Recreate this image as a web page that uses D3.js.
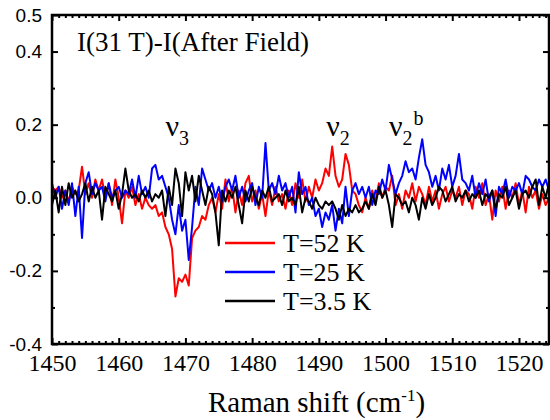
<!DOCTYPE html>
<html>
<head>
<meta charset="utf-8">
<script src="https://cdn.jsdelivr.net/npm/d3@7"></script>
</head>
<body style="margin:0">
<svg id="chart" width="550" height="420"></svg>
<script>
// Raman shift grid (cm^-1), 0.5 step
const shift = d3.range(1450, 1524.51, 0.5);

// T = 52 K
const red52 = [
  0.03, 0.02, 0.03, 0.00, 0.02, -0.01, 0.03, 0.01, 0.02, 0.085,
  0.01, 0.04, 0.00, 0.05, 0.02, 0.05, 0.00, 0.04, -0.02, 0.05,
  0.00, -0.07, 0.02, 0.00, 0.03, -0.02, 0.01, -0.03, 0.00, -0.02,
  -0.03, -0.02, -0.05, -0.04, -0.08, -0.10, -0.14, -0.27, -0.22, -0.23,
  -0.21, -0.24, -0.11, -0.09, -0.08, -0.05, -0.06, -0.02, 0.00, -0.04,
  0.01, -0.03, 0.05, -0.01, 0.03, -0.04, 0.02, -0.02, 0.04, 0.06,
  -0.01, 0.02, -0.03, 0.01, -0.05, 0.02, -0.02, 0.03, -0.01, 0.01,
  -0.03, 0.02, -0.02, 0.04, 0.00, 0.05, -0.01, 0.03, 0.00, 0.05,
  0.02, 0.04, 0.08, 0.06, 0.14, 0.06, 0.03, 0.05, 0.12, 0.09,
  0.02, 0.01, -0.02, -0.04, 0.00, -0.03, 0.02, -0.01, 0.04, 0.00,
  0.03, 0.02, 0.06, -0.02, 0.01, -0.03, 0.02, 0.00, 0.04, -0.01,
  0.03, 0.01, -0.02, 0.03, -0.01, 0.02, -0.03, 0.01, 0.03, -0.01,
  0.02, 0.00, 0.03, -0.02, 0.02, 0.01, -0.03, 0.03, 0.00, 0.04,
  -0.02, 0.01, -0.06, 0.02, -0.01, 0.03, -0.03, 0.02, 0.00, 0.04,
  -0.02, 0.02, -0.04, 0.03, 0.00, 0.02, -0.03, 0.01, -0.02, 0.00
];

// T = 25 K
const blue25 = [
  0.04, 0.00, 0.03, -0.03, 0.02, -0.02, 0.04, -0.05, 0.03, -0.11,
  0.04, 0.07, 0.01, 0.04, 0.02, 0.03, -0.01, 0.04, 0.00, 0.02,
  0.03, 0.00, 0.02, 0.01, 0.05, 0.00, 0.06, 0.01, 0.03, 0.00,
  0.08, 0.09, 0.05, 0.06, 0.03, 0.00, -0.06, -0.10, -0.02, -0.09,
  -0.06, -0.17, -0.08, 0.03, -0.02, 0.08, 0.05, 0.02, 0.04, 0.00,
  0.03, -0.01, 0.03, 0.05, 0.02, 0.06, 0.00, 0.03, -0.01, 0.02,
  0.04, -0.02, 0.03, 0.00, 0.15, 0.02, 0.04, 0.01, 0.06, 0.02,
  0.04, 0.00, 0.03, -0.04, 0.07, 0.01, 0.03, -0.02, 0.00, -0.05,
  -0.03, -0.08, -0.04, -0.06, -0.02, -0.09, -0.03, -0.07, 0.03, -0.05,
  0.02, 0.04, 0.01, 0.03, 0.00, 0.03, -0.02, 0.02, 0.01, 0.05,
  0.02, 0.09, 0.05, 0.01, 0.04, 0.06, 0.10, 0.07, 0.08, 0.05,
  0.11, 0.16, 0.09, 0.07, 0.03, 0.06, 0.02, 0.08, 0.05, 0.09,
  0.03, 0.06, 0.12, 0.05, 0.04, 0.02, 0.06, 0.00, 0.04, 0.01,
  0.05, -0.01, 0.02, -0.05, 0.03, 0.01, 0.05, 0.00, 0.03, 0.02,
  0.04, 0.01, 0.06, 0.05, 0.03, 0.02, 0.05, 0.03, 0.05, 0.02
];

// T = 3.5 K
const black35 = [
  -0.02, 0.02, -0.04, 0.03, -0.02, 0.04, 0.00, 0.02, -0.01, 0.01,
  0.04, -0.01, 0.03, 0.00, 0.02, -0.06, 0.03, 0.01, -0.01, 0.02,
  -0.03, 0.01, 0.08, 0.02, 0.00, 0.01, -0.01, 0.02, 0.00, 0.02,
  -0.01, 0.01, 0.00, 0.02, -0.05, 0.03, -0.02, 0.08, 0.04, -0.05,
  0.07, 0.02, 0.06, -0.01, 0.06, 0.02, -0.02, 0.03, 0.01, -0.04,
  -0.13, 0.02, -0.01, 0.02, 0.00, 0.03, -0.02, -0.07, 0.02, -0.01,
  0.03, 0.00, -0.02, 0.02, 0.00, 0.03, -0.01, 0.00, 0.01, -0.02,
  0.02, -0.01, 0.00, -0.02, 0.03, -0.04, 0.00, -0.01, -0.03, 0.00,
  -0.02, -0.03, -0.01, -0.02, -0.01, -0.03, -0.06, -0.02, -0.05, -0.03,
  -0.04, -0.02, -0.04, -0.03, -0.01, -0.03, 0.01, -0.02, 0.03, 0.00,
  0.02, -0.02, -0.08, 0.01, 0.00, -0.02, -0.01, -0.04, 0.00, -0.02,
  -0.06, 0.00, -0.03, 0.01, -0.02, 0.00, 0.03, 0.02, -0.01, 0.01,
  0.03, -0.01, 0.01, 0.00, 0.02, -0.01, 0.01, 0.00, 0.02, -0.02,
  0.01, 0.00, 0.02, -0.03, 0.01, 0.00, 0.03, -0.02, 0.00, 0.02,
  -0.03, 0.01, 0.02, 0.00, 0.03, 0.05, -0.02, 0.03, 0.00, 0.04
];

const seriesNames = ["T=52 K", "T=25 K", "T=3.5 K"];
const seriesColors = ["#ff0000", "#0000ff", "#000000"];
const xMajor = [1450, 1460, 1470, 1480, 1490, 1500, 1510, 1520];
const yMajor = [-0.4, -0.2, 0.0, 0.2, 0.4, 0.5];
const yMinor = [-0.3, -0.1, 0.1, 0.3];

const SERIF = '"Liberation Serif"';
const SANS = '"Liberation Sans"';

const W = 550, H = 420;
const margin = { top: 15, right: 1, bottom: 76, left: 52 };

const svg = d3.select("#chart");

const x = d3.scaleLinear().domain([1450, 1524.5]).range([margin.left, W - margin.right]);
const y = d3.scaleLinear().domain([-0.4, 0.5]).range([H - margin.bottom, margin.top]);

const plotL = x.range()[0], plotR = x.range()[1];
const plotB = y.range()[0], plotT = y.range()[1];

svg.append("defs").append("clipPath").attr("id", "plot")
  .append("rect")
  .attr("x", plotL).attr("y", plotT)
  .attr("width", plotR - plotL)
  .attr("height", plotB - plotT);

const lineGen = d3.line().x((d, i) => x(shift[i])).y(d => y(d));

svg.append("g").attr("clip-path", "url(#plot)")
  .selectAll("path")
  .data([red52, blue25, black35])
  .join("path")
  .attr("d", lineGen)
  .attr("fill", "none")
  .attr("stroke", (d, i) => seriesColors[i])
  .attr("stroke-width", 2)
  .attr("stroke-linejoin", "round");

// axes, ticks point inward
const xMinor = d3.range(1451, 1525, 1).filter(v => v % 10 !== 0);

const xAxis = svg.append("g").attr("transform", `translate(0,${plotB})`)
  .call(d3.axisBottom(x).tickValues(xMajor).tickSize(-6).tickPadding(10).tickFormat(d3.format("d")));
svg.append("g").attr("transform", `translate(0,${plotB})`)
  .call(d3.axisBottom(x).tickValues(xMinor).tickSize(-3).tickFormat(""));
svg.append("g").attr("transform", `translate(0,${plotT})`)
  .call(d3.axisTop(x).tickValues(xMajor).tickSize(-6).tickFormat(""));
svg.append("g").attr("transform", `translate(0,${plotT})`)
  .call(d3.axisTop(x).tickValues(xMinor).tickSize(-3).tickFormat(""));

const yAxis = svg.append("g").attr("transform", `translate(${plotL},0)`)
  .call(d3.axisLeft(y).tickValues(yMajor).tickSize(-6).tickPadding(10).tickFormat(d => d.toFixed(1)));
svg.append("g").attr("transform", `translate(${plotL},0)`)
  .call(d3.axisLeft(y).tickValues(yMinor).tickSize(-3).tickFormat(""));
svg.append("g").attr("transform", `translate(${plotR},0)`)
  .call(d3.axisRight(y).tickValues(yMajor).tickSize(-6).tickFormat(""));
svg.append("g").attr("transform", `translate(${plotR},0)`)
  .call(d3.axisRight(y).tickValues(yMinor).tickSize(-3).tickFormat(""));

svg.selectAll(".domain").remove();
svg.selectAll(".tick line").attr("stroke", "#000").attr("stroke-width", 2);

xAxis.attr("font-family", null).attr("font-size", null);
xAxis.selectAll("text")
  .style("font-family", SERIF).style("font-size", "24px").attr("fill", "#000");
yAxis.attr("font-family", null).attr("font-size", null);
yAxis.selectAll("text")
  .style("font-family", SANS).style("font-size", "19px").attr("fill", "#000");

svg.append("rect")
  .attr("x", plotL).attr("y", plotT)
  .attr("width", plotR - plotL).attr("height", plotB - plotT)
  .attr("fill", "none").attr("stroke", "#000").attr("stroke-width", 2.5);

const axisTitle = svg.append("text")
  .attr("x", (plotL + plotR) / 2 + 16).attr("y", 412)
  .attr("text-anchor", "middle")
  .style("font-family", SERIF).style("font-size", "29px");
axisTitle.append("tspan").text("Raman shift (cm");
axisTitle.append("tspan").attr("dy", -11).style("font-size", "17px").text("-1");
axisTitle.append("tspan").attr("dy", 11).text(")");

svg.append("text")
  .attr("x", 77).attr("y", 51)
  .style("font-family", SERIF).style("font-size", "27px")
  .text("I(31 T)-I(After Field)");

// mode labels
const modes = [
  { at: 1467.0, sub: "3", sup: "" },
  { at: 1491.1, sub: "2", sup: "" },
  { at: 1500.5, sub: "2", sup: "b" }
];
modes.forEach(m => {
  const t = svg.append("text")
    .attr("x", x(m.at)).attr("y", 136)
    .style("font-family", SERIF).style("font-size", "30px");
  t.append("tspan").text("\u03bd");
  t.append("tspan").attr("dy", 9).style("font-size", "20px").text(m.sub);
  if (m.sup) t.append("tspan").attr("dy", -20).attr("dx", 1).style("font-size", "20px").text(m.sup);
});

// legend
const legend = svg.append("g");
seriesNames.forEach((label, i) => {
  const ly = 243 + i * 29;
  legend.append("line")
    .attr("x1", 225).attr("x2", 275).attr("y1", ly).attr("y2", ly)
    .attr("stroke", seriesColors[i]).attr("stroke-width", 2.5);
  legend.append("text")
    .attr("x", 283).attr("y", ly + 9)
    .style("font-family", SERIF).style("font-size", "26px")
    .text(label);
});
</script>
</body>
</html>
